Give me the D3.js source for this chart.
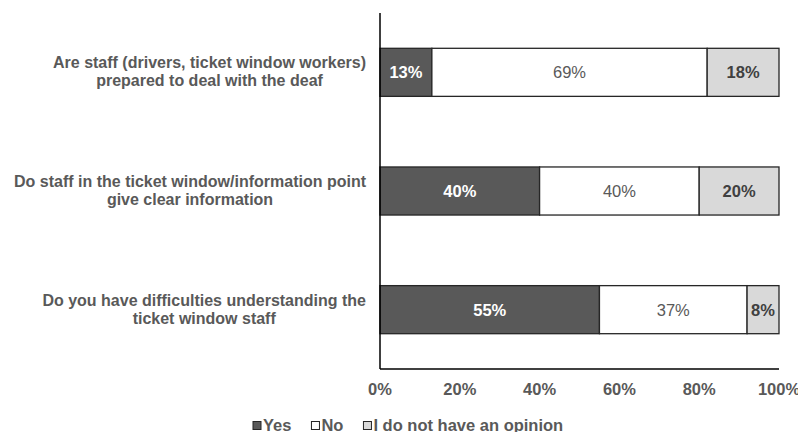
<!DOCTYPE html>
<html>
<head>
<meta charset="utf-8">
<script src="https://cdn.jsdelivr.net/npm/d3@7"></script>
<style>
  body { margin: 0; background: #fff; }
  text { font-family: "Liberation Sans", Arial, sans-serif; }
</style>
</head>
<body>
<script>
// stacked bar - staff questions

var questions = [
    ["Are staff (drivers, ticket window workers)", "prepared to deal with the deaf"],
    ["Do staff in the ticket window/information point", "give clear information"],
    ["Do you have difficulties understanding the", "ticket window staff"]
];
var yesVals = [13, 40, 55],
    noVals = [69, 40, 37],
    noOpinionVals = [18, 20, 8];
var seriesNames = ["Yes", "No", "I do not have an opinion"];
var xTicks = [0, 20, 40, 60, 80, 100];

var width = 798,
    height = 432,
    plotLeft = 380,
    plotRight = 779,
    plotTop = 13,
    plotBottom = 369;

var svg = d3.select("body").append("svg")
    .attr("width", width)
    .attr("height", height);

var x = d3.scaleLinear().domain([0, 100]).range([plotLeft, plotRight]);
var y = d3.scaleBand().domain(d3.range(questions.length))
    .range([plotTop, plotBottom]).paddingInner(0.595).paddingOuter(0.2975);

var fills = ["#595959", "#ffffff", "#d9d9d9"],
    labelColors = ["#ffffff", "#595959", "#404040"],
    labelWeights = ["bold", "normal", "bold"];

var series = [yesVals, noVals, noOpinionVals];

questions.forEach(function(q, i) {
    var start = 0;
    series.forEach(function(vals, s) {
        var v = vals[i];
        svg.append("rect")
            .attr("x", x(start))
            .attr("y", y(i))
            .attr("width", x(start + v) - x(start))
            .attr("height", y.bandwidth())
            .attr("fill", fills[s])
            .attr("stroke", "#262626")
            .attr("stroke-width", 1.3);
        svg.append("text")
            .attr("x", (x(start) + x(start + v)) / 2)
            .attr("y", y(i) + y.bandwidth() / 2 + 6)
            .attr("text-anchor", "middle")
            .attr("font-size", "16.5px")
            .attr("font-weight", labelWeights[s])
            .attr("fill", labelColors[s])
            .text(v + "%");
        start += v;
    });
});

// axis lines
svg.append("line")
    .attr("x1", plotLeft).attr("x2", plotLeft)
    .attr("y1", plotTop).attr("y2", plotBottom)
    .attr("stroke", "#000").attr("stroke-width", 1.5);
svg.append("line")
    .attr("x1", plotLeft).attr("x2", plotRight)
    .attr("y1", plotBottom).attr("y2", plotBottom)
    .attr("stroke", "#000").attr("stroke-width", 1.5);

// x tick labels
svg.selectAll(".tick")
    .data(xTicks)
    .enter().append("text")
    .attr("x", function(d) { return x(d); })
    .attr("y", 395)
    .attr("text-anchor", "middle")
    .attr("font-size", "16.5px")
    .attr("font-weight", "bold")
    .attr("fill", "#595959")
    .text(function(d) { return d + "%"; });

// category labels, centred blocks ending at labelRight
var labelRight = 366;
questions.forEach(function(q, i) {
    var cy = y(i) + y.bandwidth() / 2;
    var lines = svg.append("g").selectAll("text").data(q).enter().append("text")
        .attr("y", function(d, j) { return cy - 4 + j * 18; })
        .attr("font-size", "16px")
        .attr("font-weight", "bold")
        .attr("fill", "#595959")
        .attr("text-anchor", "middle")
        .text(function(d) { return d; });
    var widths = [];
    lines.each(function() { widths.push(this.getComputedTextLength()); });
    var w = d3.max(widths);
    lines.attr("x", labelRight - w / 2);
});

// legend
var lx = 253;
seriesNames.forEach(function(name, s) {
    svg.append("rect")
        .attr("x", lx)
        .attr("y", 421.5)
        .attr("width", 8).attr("height", 8)
        .attr("fill", fills[s])
        .attr("stroke", "#262626");
    var t = svg.append("text")
        .attr("x", lx + 10)
        .attr("y", 431)
        .attr("font-size", "16.5px")
        .attr("font-weight", "bold")
        .attr("fill", "#595959")
        .text(name);
    lx += 10 + t.node().getComputedTextLength() + 20;
});
</script>
</body>
</html>
